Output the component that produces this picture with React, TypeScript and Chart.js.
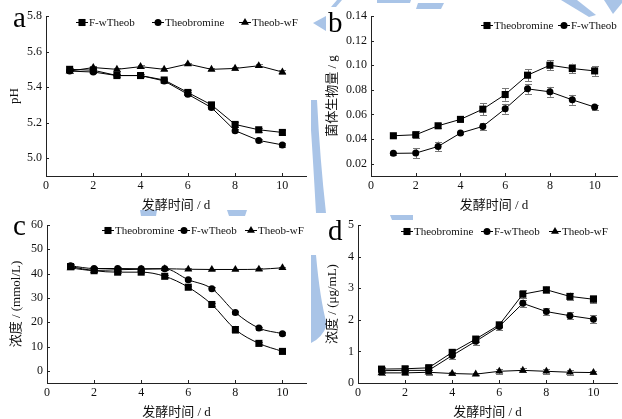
import { useEffect, useRef } from 'react';
import { Chart, registerables } from 'chart.js';

Chart.register(...registerables);

// ---------- shared ----------
const days = [1, 2, 3, 4, 5, 6, 7, 8, 9, 10];
const xTicks = [0, 2, 4, 6, 8, 10];
const xTitle = '发酵时间 / d';

// ---------- panel a: pH ----------
const phTicks = [5.0, 5.2, 5.4, 5.6, 5.8];
const phFwTheob = [5.5, 5.495, 5.465, 5.465, 5.44, 5.37, 5.3, 5.19, 5.16, 5.145];
const phFwTheobErr = [0.01, 0.01, 0.008, 0.006, 0.01, 0.012, 0.015, 0.012, 0.01, 0.013];
const phTheobromine = [5.49, 5.485, 5.465, 5.465, 5.435, 5.36, 5.285, 5.155, 5.1, 5.075];
const phTheobromineErr = [0.008, 0.008, 0.006, 0.006, 0.01, 0.01, 0.01, 0.01, 0.006, 0.012];
const phTheobWF = [5.49, 5.51, 5.5, 5.515, 5.5, 5.53, 5.5, 5.505, 5.52, 5.485];
const phTheobWFErr = [0.01, 0.008, 0.01, 0.01, 0.006, 0.008, 0.006, 0.01, 0.008, 0.01];

// ---------- panel b: biomass (g) ----------
const bioTicks = [0.02, 0.04, 0.06, 0.08, 0.1, 0.12, 0.14];
const bioTheobromine = [0.0427, 0.0435, 0.0508, 0.056, 0.0643, 0.0762, 0.0919, 0.1, 0.0973, 0.0954];
const bioTheobromineErr = [0.001, 0.003, 0.002, 0.001, 0.005, 0.005, 0.005, 0.004, 0.004, 0.004];
const bioFwTheob = [0.0284, 0.0286, 0.034, 0.0449, 0.0503, 0.0646, 0.0808, 0.0784, 0.0719, 0.066];
const bioFwTheobErr = [0.0015, 0.004, 0.004, 0.001, 0.003, 0.004, 0.004, 0.004, 0.004, 0.002];

// ---------- panel c: concentration (mmol/L) ----------
const mmolTicks = [0, 10, 20, 30, 40, 50, 60];
const mmolTheobromine = [42.9, 41.2, 40.6, 40.6, 38.9, 34.4, 27.3, 17.0, 11.3, 8.0];
const mmolTheobromineErr = [0.6, 0.5, 0.5, 0.5, 0.5, 0.6, 0.8, 1.5, 0.6, 0.5];
const mmolFwTheob = [43.2, 42.1, 42.1, 42.0, 42.0, 37.5, 33.8, 24.0, 17.6, 15.3];
const mmolFwTheobErr = [0.6, 0.5, 0.5, 0.5, 0.5, 0.6, 0.6, 0.8, 0.6, 0.6];
const mmolTheobWF = [42.3, 41.3, 41.6, 41.8, 42.0, 41.8, 41.7, 41.7, 41.8, 42.4];
const mmolTheobWFErr = [0.4, 0.4, 0.4, 0.4, 0.4, 0.4, 0.4, 0.4, 0.4, 0.4];

// ---------- panel d: concentration (ug/mL) ----------
const ugTicks = [0, 1, 2, 3, 4, 5];
const ugTheobromine = [0.44, 0.45, 0.48, 0.97, 1.39, 1.84, 2.81, 2.95, 2.74, 2.65];
const ugTheobromineErr = [0.08, 0.08, 0.12, 0.1, 0.1, 0.08, 0.12, 0.1, 0.12, 0.12];
const ugFwTheob = [0.39, 0.4, 0.4, 0.87, 1.32, 1.79, 2.52, 2.26, 2.13, 2.02];
const ugFwTheobErr = [0.08, 0.08, 0.1, 0.1, 0.12, 0.1, 0.12, 0.1, 0.12, 0.12];
const ugTheobWF = [0.32, 0.32, 0.34, 0.3, 0.28, 0.37, 0.4, 0.37, 0.34, 0.33];
const ugTheobWFErr = [0.06, 0.06, 0.08, 0.06, 0.04, 0.08, 0.06, 0.08, 0.08, 0.06];

// ---------- styling ----------
const SERIF = "'Liberation Serif', 'Times New Roman', 'Noto Sans CJK SC', serif";
const TITLE_FONT = "'Liberation Serif', 'Noto Sans CJK SC', serif";
const INK = '#111';

type Style = 'rect' | 'circle' | 'triangle';
const RADIUS: Record<Style, number> = { rect: 5, circle: 3.5, triangle: 4.6 };

interface Series { label: string; style: Style; values: number[]; errors: number[] }
interface Panel {
  letter: string;
  left: number; top: number; width: number; height: number;
  areaLeft: number; areaTop: number; xHeight: number;
  xTitlePad: number; yTitlePad: number;
  yTitle: string; yMin: number; yMax: number; yTicks: number[]; decimals: number;
  smooth: boolean;
  legendXs: number[]; legendY: number;
  letterX: number; letterY: number;
  series: Series[];
}

const panels: Panel[] = [
  {
    letter: 'a', left: 0, top: 0, width: 311, height: 214,
    areaLeft: 46, areaTop: 16, xHeight: 38, xTitlePad: 2, yTitlePad: 8,
    yTitle: 'pH', yMin: 4.9, yMax: 5.8, yTicks: phTicks, decimals: 1, smooth: false,
    legendXs: [76, 152, 239], legendY: 22, letterX: 13, letterY: 27,
    series: [
      { label: 'F-wTheob', style: 'rect', values: phFwTheob, errors: phFwTheobErr },
      { label: 'Theobromine', style: 'circle', values: phTheobromine, errors: phTheobromineErr },
      { label: 'Theob-wF', style: 'triangle', values: phTheobWF, errors: phTheobWFErr },
    ],
  },
  {
    letter: 'b', left: 311, top: 0, width: 311, height: 214,
    areaLeft: 60, areaTop: 16, xHeight: 38, xTitlePad: 2, yTitlePad: 15,
    yTitle: '菌体生物量 / g', yMin: 0.01, yMax: 0.14, yTicks: bioTicks, decimals: 2, smooth: false,
    legendXs: [170, 247], legendY: 25, letterX: 17, letterY: 32,
    series: [
      { label: 'Theobromine', style: 'rect', values: bioTheobromine, errors: bioTheobromineErr },
      { label: 'F-wTheob', style: 'circle', values: bioFwTheob, errors: bioFwTheobErr },
    ],
  },
  {
    letter: 'c', left: 0, top: 210, width: 311, height: 209,
    areaLeft: 47, areaTop: 15, xHeight: 36, xTitlePad: 0, yTitlePad: 10,
    yTitle: '浓度 / (mmol/L)', yMin: -5, yMax: 60, yTicks: mmolTicks, decimals: 0, smooth: true,
    legendXs: [102, 178, 245], legendY: 20, letterX: 13, letterY: 25,
    series: [
      { label: 'Theobromine', style: 'rect', values: mmolTheobromine, errors: mmolTheobromineErr },
      { label: 'F-wTheob', style: 'circle', values: mmolFwTheob, errors: mmolFwTheobErr },
      { label: 'Theob-wF', style: 'triangle', values: mmolTheobWF, errors: mmolTheobWFErr },
    ],
  },
  {
    letter: 'd', left: 311, top: 210, width: 311, height: 209,
    areaLeft: 47, areaTop: 15, xHeight: 36, xTitlePad: 0, yTitlePad: 15,
    yTitle: '浓度 / (μg/mL)', yMin: 0, yMax: 5, yTicks: ugTicks, decimals: 0, smooth: false,
    legendXs: [90, 170, 238], legendY: 21, letterX: 17, letterY: 30,
    series: [
      { label: 'Theobromine', style: 'rect', values: ugTheobromine, errors: ugTheobromineErr },
      { label: 'F-wTheob', style: 'circle', values: ugFwTheob, errors: ugFwTheobErr },
      { label: 'Theob-wF', style: 'triangle', values: ugTheobWF, errors: ugTheobWFErr },
    ],
  },
];

function drawMarker(ctx: CanvasRenderingContext2D, style: Style, x: number, y: number) {
  const r = RADIUS[style];
  ctx.beginPath();
  if (style === 'rect') {
    const s = Math.SQRT1_2 * r;
    ctx.rect(x - s, y - s, 2 * s, 2 * s);
  } else if (style === 'circle') {
    ctx.arc(x, y, r, 0, Math.PI * 2);
  } else {
    let rad = 0;
    ctx.moveTo(x + Math.sin(rad) * r, y - Math.cos(rad) * r);
    rad += (2 * Math.PI) / 3;
    ctx.lineTo(x + Math.sin(rad) * r, y - Math.cos(rad) * r);
    rad += (2 * Math.PI) / 3;
    ctx.lineTo(x + Math.sin(rad) * r, y - Math.cos(rad) * r);
    ctx.closePath();
  }
  ctx.fill();
}

const errorBarsPlugin = {
  id: 'errorBars',
  beforeDatasetsDraw(chart: any) {
    const { ctx } = chart;
    const xs = chart.scales.x;
    const ys = chart.scales.y;
    ctx.save();
    ctx.strokeStyle = '#777';
    ctx.lineWidth = 1;
    chart.data.datasets.forEach((ds: any) => {
      const errs: number[] = ds.errors || [];
      ds.data.forEach((pt: any, i: number) => {
        const e = errs[i];
        if (!e) return;
        const x = Math.round(xs.getPixelForValue(pt.x)) + 0.5;
        const y1 = ys.getPixelForValue(pt.y - e);
        const y2 = ys.getPixelForValue(pt.y + e);
        ctx.beginPath();
        ctx.moveTo(x, y1);
        ctx.lineTo(x, y2);
        ctx.moveTo(x - 3.5, Math.round(y1) + 0.5);
        ctx.lineTo(x + 3.5, Math.round(y1) + 0.5);
        ctx.moveTo(x - 3.5, Math.round(y2) + 0.5);
        ctx.lineTo(x + 3.5, Math.round(y2) + 0.5);
        ctx.stroke();
      });
    });
    ctx.restore();
  },
};

const decorPlugin = {
  id: 'decor',
  afterDraw(chart: any, _args: any, opts: any) {
    const { ctx, chartArea } = chart;
    const xs = chart.scales.x;
    const ys = chart.scales.y;
    ctx.save();
    // inward tick marks
    ctx.strokeStyle = '#222';
    ctx.lineWidth = 1;
    ctx.beginPath();
    xs.ticks.forEach((t: any) => {
      const px = Math.round(xs.getPixelForValue(t.value)) + 0.5;
      ctx.moveTo(px, chartArea.bottom);
      ctx.lineTo(px, chartArea.bottom - 3);
    });
    ys.ticks.forEach((t: any) => {
      const py = Math.round(ys.getPixelForValue(t.value)) + 0.5;
      ctx.moveTo(chartArea.left, py);
      ctx.lineTo(chartArea.left + 3, py);
    });
    ctx.stroke();

    // legend
    ctx.font = `11px ${SERIF}`;
    ctx.textBaseline = 'middle';
    ctx.textAlign = 'left';
    const y = opts.legendY;
    chart.data.datasets.forEach((ds: any, i: number) => {
      const x = opts.legendXs[i];
      ctx.strokeStyle = '#000';
      ctx.fillStyle = '#000';
      ctx.beginPath();
      ctx.moveTo(x, y + 0.5);
      ctx.lineTo(x + 12, y + 0.5);
      ctx.stroke();
      drawMarker(ctx, ds.markerStyle, x + 6, y + 0.5);
      ctx.fillStyle = INK;
      ctx.fillText(ds.label, x + 13, y + 1);
    });

    // panel letter
    ctx.font = `29px ${SERIF}`;
    ctx.textBaseline = 'alphabetic';
    ctx.fillStyle = '#000';
    ctx.fillText(opts.letter, opts.letterX, opts.letterY);
    ctx.restore();
  },
};

function buildConfig(p: Panel): any {
  return {
    type: 'line',
    data: {
      datasets: p.series.map((s) => ({
        label: s.label,
        markerStyle: s.style,
        errors: s.errors,
        data: days.map((d, i) => ({ x: d, y: s.values[i] })),
        borderColor: '#000',
        borderWidth: 1,
        backgroundColor: '#000',
        pointStyle: s.style,
        pointRadius: RADIUS[s.style],
        pointBackgroundColor: '#000',
        pointBorderColor: '#000',
        pointBorderWidth: 0,
        pointHoverRadius: RADIUS[s.style],
        fill: false,
        tension: p.smooth ? 0.4 : 0,
        cubicInterpolationMode: p.smooth ? 'monotone' : 'default',
      })),
    },
    plugins: [errorBarsPlugin, decorPlugin],
    options: {
      responsive: false,
      maintainAspectRatio: false,
      animation: false,
      events: [],
      layout: { padding: { top: p.areaTop, right: 1, left: 0, bottom: 0 } },
      plugins: {
        legend: { display: false },
        tooltip: { enabled: false },
        decor: {
          legendXs: p.legendXs, legendY: p.legendY,
          letter: p.letter, letterX: p.letterX, letterY: p.letterY,
        },
      },
      scales: {
        x: {
          type: 'linear',
          min: 0,
          max: 11,
          afterBuildTicks: (s: any) => { s.ticks = xTicks.map((v) => ({ value: v })); },
          afterFit: (s: any) => { s.height = p.xHeight; },
          grid: { display: true, drawOnChartArea: false, drawTicks: false },
          border: { display: true, color: '#222', width: 1 },
          ticks: {
            padding: 3, autoSkip: false, maxRotation: 0, color: INK,
            font: { family: SERIF, size: 12 },
            callback: (v: any) => String(v),
          },
          title: {
            display: true, text: xTitle, color: INK,
            font: { family: TITLE_FONT, size: 13, lineHeight: 1 },
            padding: { top: 0, bottom: p.xTitlePad },
          },
        },
        y: {
          type: 'linear',
          min: p.yMin,
          max: p.yMax,
          afterBuildTicks: (s: any) => { s.ticks = p.yTicks.map((v) => ({ value: v })); },
          afterFit: (s: any) => { s.width = p.areaLeft; },
          grid: { display: true, drawOnChartArea: false, drawTicks: false },
          border: { display: true, color: '#222', width: 1 },
          ticks: {
            padding: 4, autoSkip: false, color: INK,
            font: { family: SERIF, size: 12 },
            callback: (v: any) => Number(v).toFixed(p.decimals),
          },
          title: {
            display: true, text: p.yTitle, color: INK,
            font: { family: TITLE_FONT, size: 13, lineHeight: 1 },
            padding: { top: p.yTitlePad, bottom: 0 },
          },
        },
      },
    },
  };
}

function PanelChart({ p }: { p: Panel }) {
  const ref = useRef<HTMLCanvasElement | null>(null);
  useEffect(() => {
    if (!ref.current) return;
    const chart = new Chart(ref.current, buildConfig(p));
    return () => chart.destroy();
  }, [p]);
  return (
    <canvas
      ref={ref}
      width={p.width}
      height={p.height}
      style={{ position: 'absolute', left: p.left, top: p.top, width: p.width, height: p.height }}
    />
  );
}

const WM = '#a9c4e7';

export default function App() {
  return (
    <div style={{ position: 'absolute', left: 0, top: 0, width: 622, height: 419, overflow: 'hidden', background: '#fff' }}>
      <svg width={622} height={419} style={{ position: 'absolute', left: 0, top: 0 }}>
        <polygon points="313,23 326,16 326,31" fill={WM} />
        <polygon points="331,7 337,0 342,0 336,7" fill={WM} />
        <polygon points="377,0 411,0 410,3 377,3" fill={WM} />
        <polygon points="418,3 444,3 441,9 416,9" fill={WM} />
        <polygon points="561,0 577,0 596,15 589,17" fill={WM} />
        <polygon points="604,0 622,0 622,3 613,14" fill={WM} />
        <path d="M311,100 L317,100 Q320,160 326,213 L316,213 Q313,160 311,130 Z" fill={WM} />
        <polygon points="390,215 413,215 413,220 392,220" fill={WM} />
        <path d="M311,255 L316,255 Q320,300 327,325 Q322,338 311,343 Z" fill={WM} />
        <polygon points="140,210 157,210 156,216 141,216" fill={WM} />
        <polygon points="227,210 247,210 245,216 229,216" fill={WM} />
      </svg>
      {panels.map((p) => (
        <PanelChart key={p.letter} p={p} />
      ))}
    </div>
  );
}
